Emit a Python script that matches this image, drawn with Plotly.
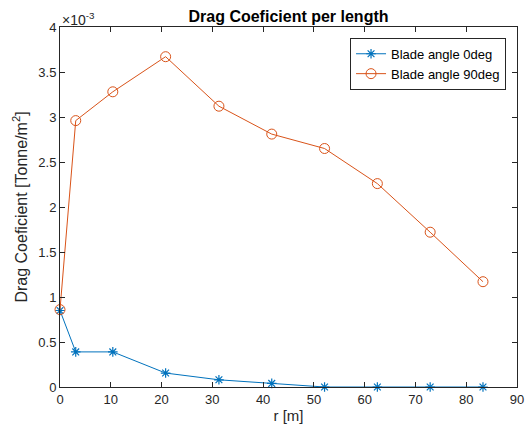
import plotly.graph_objects as go

r = [0, 3.1, 10.4, 20.8, 31.3, 41.7, 52.1, 62.5, 72.9, 83.3]
cd_0deg = [0.85, 0.39, 0.39, 0.155, 0.08, 0.04, 0.0, 0.0, 0.0, 0.0]          # x 1e-3
cd_90deg = [0.86, 2.96, 3.28, 3.67, 3.12, 2.81, 2.65, 2.26, 1.72, 1.17]        # x 1e-3
x_ticks = [0, 10, 20, 30, 40, 50, 60, 70, 80, 90]
y_ticks = [0, 0.5, 1, 1.5, 2, 2.5, 3, 3.5, 4]
y_tick_text = ["0", "0.5", "1", "1.5", "2", "2.5", "3", "3.5", "4"]

blue = "#0072BD"
orange = "#D95319"
axc = "#262626"
font = "Liberation Sans, Arial, sans-serif"

fig = go.Figure()
fig.add_trace(go.Scatter(x=r, y=cd_0deg, mode="lines+markers", name="Blade angle 0deg",
                         line=dict(color=blue, width=1),
                         marker=dict(symbol="asterisk-open", size=8, color=blue,
                                     line=dict(color=blue, width=1.2)),
                         cliponaxis=False))
fig.add_trace(go.Scatter(x=r, y=cd_90deg, mode="lines+markers", name="Blade angle 90deg",
                         line=dict(color=orange, width=1),
                         marker=dict(symbol="circle-open", size=10, color=orange,
                                     line=dict(color=orange, width=1)),
                         cliponaxis=False))

axis_common = dict(showgrid=False, zeroline=False, showline=True, linecolor=axc, linewidth=1,
                   mirror="ticks", ticks="inside", ticklen=5, tickcolor=axc, tickwidth=1,
                   automargin=False,
                   tickfont=dict(family=font, size=13, color=axc))
fig.update_xaxes(range=[0, 90], tickvals=x_ticks,
                 title=dict(text="r [m]", font=dict(family=font, size=15, color=axc), standoff=4),
                 **axis_common)
fig.update_yaxes(range=[0, 4], tickvals=y_ticks, ticktext=y_tick_text,
                 title=dict(text="Drag Coeficient [Tonne/m<sup>2</sup>]",
                            font=dict(family=font, size=16, color=axc), standoff=6),
                 **axis_common)

fig.add_annotation(text="×10<sup>-3</sup>", xref="paper", yref="paper", x=0, y=1,
                   xanchor="left", yanchor="bottom", showarrow=False,
                   font=dict(family=font, size=14, color=axc), yshift=-3)

fig.update_layout(
    width=526, height=434,
    margin=dict(l=60, r=9, t=27, b=47),
    plot_bgcolor="white", paper_bgcolor="white",
    title=dict(text="<b>Drag Coeficient per length</b>", x=0.5, xref="paper", xanchor="center",
               y=1, yref="paper", yanchor="bottom", pad=dict(b=5), automargin=False,
               font=dict(family=font, size=16, color="black")),
    legend=dict(x=0.976, y=0.97, xanchor="right", yanchor="top", bgcolor="white",
                bordercolor=axc, borderwidth=1, font=dict(family=font, size=13, color="black"),
                tracegroupgap=0),
    showlegend=True,
)

fig.write_html("out.html")
